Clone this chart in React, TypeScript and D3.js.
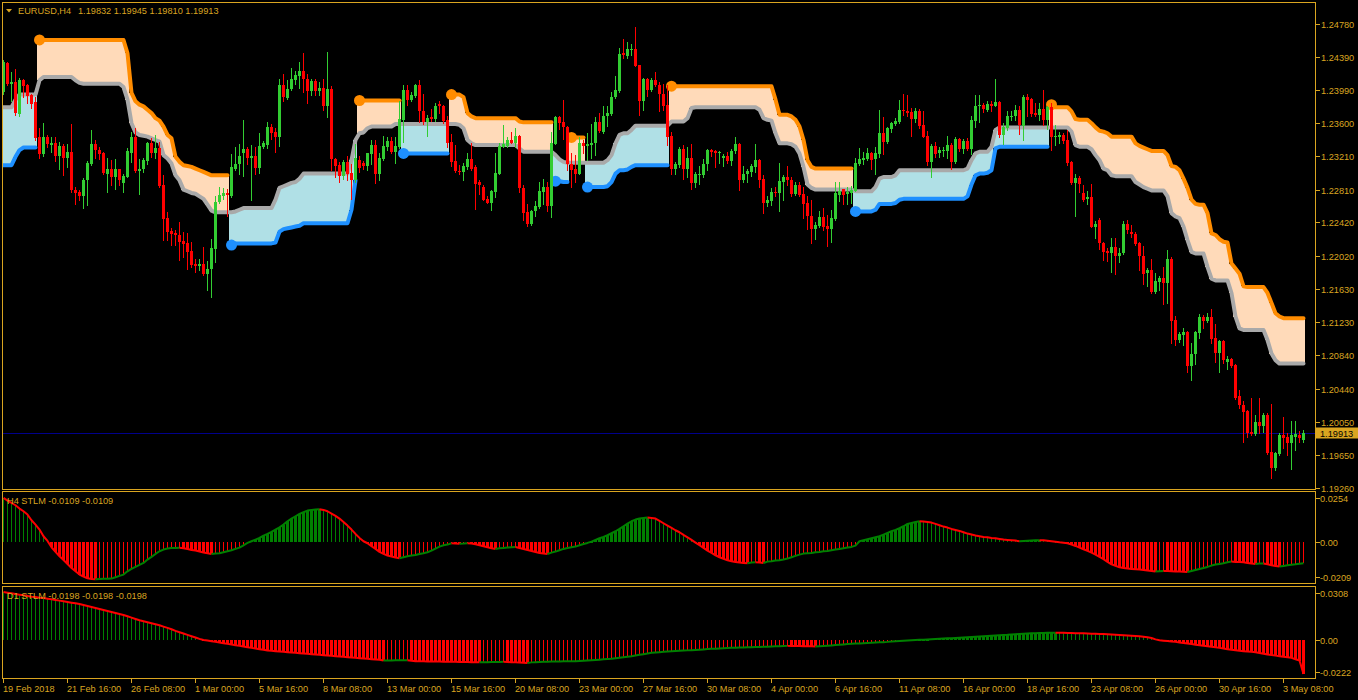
import React from "react";
import * as d3 from "d3";

// ---------------- DATA ----------------
const symbolTitle = "EURUSD,H4";
const lastQuote = "1.19832 1.19945 1.19810 1.19913";
const h4Title = "H4 STLM -0.0109 -0.0109";
const d1Title = "D1 STLM -0.0198 -0.0198 -0.0198";

const timeLabels = ["19 Feb 2018","21 Feb 16:00","26 Feb 08:00","1 Mar 00:00","5 Mar 16:00","8 Mar 08:00","13 Mar 00:00","15 Mar 16:00","20 Mar 08:00","23 Mar 00:00","27 Mar 16:00","30 Mar 08:00","4 Apr 00:00","6 Apr 16:00","11 Apr 08:00","16 Apr 00:00","18 Apr 16:00","23 Apr 08:00","26 Apr 00:00","30 Apr 16:00","3 May 08:00"];
const timeLabelBars = [0,16,32,48,64,80,96,112,128,144,160,176,192,208,224,240,256,272,288,304,320];

const priceTicks = [1.2478,1.2439,1.2399,1.236,1.2321,1.2281,1.2242,1.2202,1.2163,1.2123,1.2084,1.2044,1.2005,1.1965,1.1926];
const h4AxisValues = [0.0254, 0, -0.0209];
const h4AxisLabels = ["0.0254", "0.00", "-0.0209"];
const d1AxisValues = [0.0308, 0, -0.0222];
const d1AxisLabels = ["0.0308", "0.00", "-0.0222"];

const opens = [
1.2397,1.2432,1.2407,1.2409,1.2371,1.2411,1.2405,1.2393,1.2385,1.2343,
1.2323,1.2344,1.2334,1.2336,1.2321,1.2333,1.2319,1.2326,1.2281,1.2278,
1.2273,1.2292,1.2312,1.2335,1.2328,1.2324,1.2300,1.2306,1.2296,1.2305,
1.2289,1.2296,1.2325,1.2343,1.2303,1.2305,1.2315,1.2336,1.2324,1.2330,
1.2286,1.2247,1.2232,1.2229,1.2227,1.2220,1.2217,1.2208,1.2192,1.2190,
1.2192,1.2180,1.2187,1.2210,1.2266,1.2273,1.2277,1.2273,1.2306,1.2311,
1.2324,1.2329,1.2318,1.2321,1.2307,1.2332,1.2334,1.2356,1.2349,1.2343,
1.2406,1.2390,1.2401,1.2411,1.2416,1.2422,1.2413,1.2398,1.2410,1.2398,
1.2402,1.2381,1.2401,1.2317,1.2310,1.2297,1.2314,1.2301,1.2292,1.2316,
1.2313,1.2309,1.2323,1.2334,1.2300,1.2317,1.2332,1.2339,1.2326,1.2332,
1.2364,1.2400,1.2387,1.2392,1.2406,1.2375,1.2362,1.2367,1.2365,1.2383,
1.2381,1.2364,1.2338,1.2315,1.2303,1.2302,1.2308,1.2317,1.2308,1.2290,
1.2284,1.2270,1.2265,1.2278,1.2300,1.2332,1.2333,1.2340,1.2336,1.2345,
1.2283,1.2254,1.2240,1.2255,1.2260,1.2278,1.2284,1.2261,1.2335,1.2367,
1.2361,1.2355,1.2312,1.2305,1.2300,1.2337,1.2333,1.2334,1.2337,1.2361,
1.2349,1.2368,1.2371,1.2391,1.2398,1.2443,1.2440,1.2447,1.2448,1.2429,
1.2386,1.2412,1.2399,1.2411,1.2406,1.2395,1.2382,1.2345,1.2305,1.2310,
1.2329,1.2306,1.2319,1.2289,1.2298,1.2298,1.2311,1.2328,1.2327,1.2325,
1.2319,1.2321,1.2315,1.2327,1.2335,1.2292,1.2300,1.2302,1.2308,1.2316,
1.2294,1.2265,1.2268,1.2278,1.2277,1.2290,1.2296,1.2293,1.2276,1.2286,
1.2276,1.2265,1.2250,1.2234,1.2238,1.2248,1.2238,1.2234,1.2246,1.2274,
1.2282,1.2276,1.2277,1.2279,1.2312,1.2316,1.2317,1.2324,1.2317,1.2323,
1.2348,1.2338,1.2353,1.2359,1.2362,1.2376,1.2374,1.2373,1.2365,1.2375,
1.2358,1.2345,1.2314,1.2333,1.2324,1.2327,1.2327,1.2334,1.2314,1.2341,
1.2329,1.2339,1.2329,1.2363,1.2380,1.2382,1.2376,1.2383,1.2381,1.2385,
1.2346,1.2354,1.2367,1.2368,1.2376,1.2357,1.2391,1.2389,1.2372,1.2370,
1.2377,1.2364,1.2379,1.2343,1.2343,1.2346,1.2340,1.2314,1.2289,1.2295,
1.2277,1.2270,1.2272,1.2237,1.2245,1.2217,1.2208,1.2206,1.2213,1.2202,
1.2205,1.2240,1.2230,1.2228,1.2217,1.2202,1.2182,1.2185,1.2159,1.2171,
1.2176,1.2170,1.2199,1.2126,1.2102,1.2108,1.2112,1.2071,1.2085,1.2110,
1.2130,1.2125,1.2130,1.2104,1.2087,1.2101,1.2076,1.2079,1.2072,1.2035,
1.2025,1.2018,1.1993,1.1990,1.2005,1.2000,1.2013,1.1969,1.1950,1.1967,
1.1989,1.1987,1.1980,1.1987,1.1989,1.19832];

const highs = [
1.2435,1.2433,1.2421,1.2425,1.2414,1.2412,1.2407,1.2395,1.2391,1.2354,
1.2360,1.2346,1.2344,1.2343,1.2338,1.2335,1.2335,1.2359,1.2284,1.2281,
1.2295,1.2315,1.2352,1.2340,1.2332,1.2326,1.2319,1.2316,1.2317,1.2306,
1.2300,1.2330,1.2349,1.2354,1.2317,1.2318,1.2338,1.2342,1.2346,1.2338,
1.2298,1.2254,1.2235,1.2233,1.2242,1.2230,1.2229,1.2219,1.2199,1.2198,
1.2213,1.2196,1.2222,1.2273,1.2284,1.2283,1.2282,1.2323,1.2332,1.2335,
1.2364,1.2332,1.2334,1.2332,1.2348,1.2339,1.2362,1.2359,1.2354,1.2412,
1.2418,1.2411,1.2426,1.2422,1.2433,1.2443,1.2418,1.2413,1.2412,1.2409,
1.2413,1.2445,1.2404,1.2319,1.2314,1.2316,1.2321,1.2312,1.2335,1.2321,
1.2315,1.2325,1.2340,1.2340,1.2325,1.2345,1.2344,1.2344,1.2344,1.2386,
1.2406,1.2406,1.2397,1.2407,1.2411,1.2395,1.2370,1.2377,1.2384,1.2386,
1.2382,1.2368,1.2347,1.2334,1.2310,1.2313,1.2324,1.2336,1.2310,1.2292,
1.2286,1.2273,1.2281,1.2324,1.2336,1.2358,1.2343,1.2350,1.2354,1.2346,
1.2286,1.2264,1.2257,1.2267,1.2290,1.2294,1.2290,1.2349,1.2368,1.2369,
1.2388,1.2357,1.2325,1.2322,1.2344,1.2340,1.2348,1.2359,1.2367,1.2372,
1.2380,1.2380,1.2397,1.2416,1.2449,1.2460,1.2457,1.2454,1.2474,1.2429,
1.2414,1.2414,1.2414,1.2421,1.2409,1.2407,1.2406,1.2349,1.2314,1.2332,
1.2334,1.2332,1.2335,1.2302,1.2309,1.2317,1.2329,1.2329,1.2328,1.2327,
1.2323,1.2326,1.2329,1.2344,1.2337,1.2309,1.2306,1.2311,1.2335,1.2317,
1.2298,1.2273,1.2283,1.2284,1.2313,1.2298,1.2309,1.2296,1.2290,1.2290,
1.2284,1.2273,1.2269,1.2242,1.2255,1.2259,1.2251,1.2257,1.2290,1.2290,
1.2282,1.2284,1.2285,1.2319,1.2330,1.2326,1.2330,1.2326,1.2332,1.2376,
1.2367,1.2356,1.2362,1.2366,1.2387,1.2395,1.2393,1.2378,1.2378,1.2377,
1.2374,1.2351,1.2335,1.2338,1.2332,1.2332,1.2345,1.2337,1.2344,1.2342,
1.2341,1.2342,1.2368,1.2394,1.2394,1.2384,1.2386,1.2386,1.2413,1.2386,
1.2360,1.2375,1.2374,1.2382,1.2380,1.2394,1.2395,1.2390,1.2384,1.2384,
1.2400,1.2380,1.2384,1.2358,1.2349,1.2348,1.2352,1.2315,1.2299,1.2297,
1.2287,1.2279,1.2288,1.2244,1.2247,1.2219,1.2211,1.2223,1.2223,1.2212,
1.2244,1.2245,1.2239,1.2230,1.2219,1.2214,1.2188,1.2199,1.2182,1.2178,
1.2189,1.2209,1.2201,1.2131,1.2112,1.2116,1.2113,1.2098,1.2113,1.2133,
1.2132,1.2134,1.2139,1.2121,1.2102,1.2102,1.2083,1.2081,1.2073,1.2042,
1.2029,1.2019,1.2033,1.2013,1.2033,1.2015,1.2015,1.2026,1.1969,1.1991,
1.2011,1.1992,1.2006,1.2006,1.1994,1.19945];

const lows = [
1.2395,1.2405,1.2386,1.2370,1.2368,1.2391,1.2384,1.2378,1.2340,1.2319,
1.2321,1.2332,1.2326,1.2315,1.2306,1.2298,1.2308,1.2278,1.2264,1.2269,
1.2259,1.2263,1.2310,1.2318,1.2317,1.2300,1.2278,1.2286,1.2282,1.2286,
1.2278,1.2296,1.2314,1.2302,1.2276,1.2302,1.2312,1.2320,1.2318,1.2284,
1.2221,1.2221,1.2215,1.2215,1.2197,1.2201,1.2187,1.2189,1.2183,1.2185,
1.2179,1.2161,1.2153,1.2195,1.2265,1.2270,1.2249,1.2272,1.2304,1.2300,
1.2297,1.2312,1.2269,1.2300,1.2301,1.2330,1.2331,1.2341,1.2326,1.2333,
1.2386,1.2389,1.2399,1.2407,1.2402,1.2397,1.2384,1.2394,1.2393,1.2393,
1.2376,1.2367,1.2304,1.2296,1.2290,1.2294,1.2293,1.2270,1.2290,1.2302,
1.2305,1.2304,1.2312,1.2289,1.2292,1.2316,1.2328,1.2324,1.2313,1.2330,
1.2338,1.2382,1.2386,1.2391,1.2362,1.2359,1.2345,1.2363,1.2363,1.2372,
1.2360,1.2332,1.2309,1.2302,1.2300,1.2293,1.2306,1.2304,1.2258,1.2276,
1.2269,1.2265,1.2257,1.2272,1.2300,1.2332,1.2332,1.2336,1.2332,1.2278,
1.2245,1.2238,1.2239,1.2249,1.2259,1.2264,1.2256,1.2248,1.2335,1.2353,
1.2341,1.2304,1.2284,1.2290,1.2299,1.2324,1.2316,1.2318,1.2322,1.2349,
1.2348,1.2357,1.2370,1.2390,1.2397,1.2437,1.2438,1.2441,1.2428,1.2370,
1.2376,1.2392,1.2398,1.2404,1.2375,1.2376,1.2334,1.2299,1.2300,1.2308,
1.2294,1.2296,1.2282,1.2284,1.2288,1.2296,1.2304,1.2321,1.2308,1.2313,
1.2309,1.2313,1.2310,1.2325,1.2281,1.2290,1.2290,1.2297,1.2302,1.2284,
1.2253,1.2261,1.2263,1.2273,1.2256,1.2269,1.2286,1.2273,1.2275,1.2273,
1.2247,1.2234,1.2218,1.2222,1.2236,1.2233,1.2214,1.2219,1.2245,1.2267,
1.2264,1.2264,1.2265,1.2279,1.2310,1.2312,1.2316,1.2305,1.2300,1.2320,
1.2323,1.2337,1.2350,1.2358,1.2360,1.2370,1.2368,1.2345,1.2362,1.2354,
1.2343,1.2310,1.2296,1.2320,1.2320,1.2321,1.2318,1.2305,1.2313,1.2327,
1.2324,1.2328,1.2323,1.2356,1.2362,1.2373,1.2375,1.2374,1.2380,1.2344,
1.2335,1.2352,1.2364,1.2364,1.2347,1.2340,1.2369,1.2369,1.2369,1.2364,
1.2358,1.2353,1.2328,1.2334,1.2337,1.2336,1.2310,1.2288,1.2249,1.2278,
1.2267,1.2264,1.2236,1.2224,1.2210,1.2197,1.2196,1.2183,1.2181,1.2195,
1.2204,1.2229,1.2225,1.2215,1.2185,1.2169,1.2166,1.2158,1.2158,1.2161,
1.2145,1.2146,1.2098,1.2096,1.2100,1.2096,1.2064,1.2055,1.2073,1.2105,
1.2116,1.2123,1.2098,1.2076,1.2064,1.2075,1.2067,1.2070,1.2032,1.2021,
1.1981,1.1987,1.1989,1.1989,1.1992,1.1993,1.1967,1.1938,1.1947,1.1965,
1.1973,1.1965,1.1949,1.1971,1.1981,1.19810];

const closes = [
1.2433,1.2407,1.2409,1.2372,1.2411,1.2404,1.2392,1.2383,1.2342,1.2323,
1.2344,1.2335,1.2337,1.2321,1.2333,1.2319,1.2326,1.2280,1.2277,1.2273,
1.2293,1.2313,1.2335,1.2328,1.2323,1.2301,1.2306,1.2296,1.2305,1.2293,
1.2297,1.2327,1.2343,1.2303,1.2306,1.2316,1.2336,1.2324,1.2330,1.2285,
1.2246,1.2231,1.2228,1.2227,1.2219,1.2216,1.2207,1.2191,1.2190,1.2192,
1.2180,1.2187,1.2211,1.2266,1.2275,1.2277,1.2275,1.2308,1.2311,1.2321,
1.2329,1.2318,1.2321,1.2307,1.2333,1.2336,1.2355,1.2348,1.2343,1.2405,
1.2391,1.2401,1.2412,1.2417,1.2422,1.2412,1.2398,1.2410,1.2398,1.2402,
1.2381,1.2401,1.2317,1.2309,1.2297,1.2314,1.2300,1.2292,1.2318,1.2307,
1.2309,1.2324,1.2334,1.2300,1.2318,1.2333,1.2339,1.2326,1.2333,1.2365,
1.2399,1.2387,1.2393,1.2406,1.2374,1.2361,1.2366,1.2365,1.2381,1.2380,
1.2363,1.2336,1.2314,1.2303,1.2302,1.2309,1.2317,1.2306,1.2288,1.2286,
1.2269,1.2265,1.2279,1.2301,1.2333,1.2335,1.2340,1.2336,1.2345,1.2283,
1.2253,1.2240,1.2256,1.2261,1.2279,1.2284,1.2261,1.2336,1.2367,1.2360,
1.2355,1.2311,1.2304,1.2300,1.2336,1.2333,1.2335,1.2337,1.2361,1.2351,
1.2369,1.2372,1.2391,1.2399,1.2442,1.2441,1.2448,1.2448,1.2428,1.2386,
1.2412,1.2399,1.2411,1.2405,1.2395,1.2381,1.2344,1.2305,1.2311,1.2329,
1.2306,1.2319,1.2289,1.2299,1.2299,1.2311,1.2328,1.2326,1.2325,1.2326,
1.2321,1.2315,1.2327,1.2335,1.2292,1.2300,1.2303,1.2309,1.2316,1.2293,
1.2265,1.2269,1.2278,1.2277,1.2291,1.2296,1.2292,1.2276,1.2286,1.2275,
1.2264,1.2249,1.2234,1.2239,1.2248,1.2237,1.2234,1.2247,1.2277,1.2279,
1.2275,1.2278,1.2281,1.2313,1.2317,1.2319,1.2324,1.2316,1.2324,1.2348,
1.2338,1.2354,1.2360,1.2363,1.2376,1.2374,1.2372,1.2365,1.2375,1.2357,
1.2344,1.2314,1.2333,1.2323,1.2328,1.2328,1.2334,1.2314,1.2341,1.2329,
1.2339,1.2329,1.2364,1.2381,1.2382,1.2377,1.2383,1.2381,1.2385,1.2346,
1.2355,1.2368,1.2369,1.2376,1.2358,1.2391,1.2388,1.2371,1.2370,1.2377,
1.2364,1.2379,1.2343,1.2345,1.2346,1.2339,1.2313,1.2289,1.2295,1.2288,
1.2269,1.2272,1.2237,1.2240,1.2217,1.2207,1.2206,1.2213,1.2202,1.2206,
1.2240,1.2233,1.2228,1.2216,1.2202,1.2181,1.2185,1.2159,1.2172,1.2176,
1.2170,1.2199,1.2125,1.2102,1.2109,1.2112,1.2071,1.2086,1.2111,1.2130,
1.2125,1.2130,1.2103,1.2087,1.2101,1.2078,1.2079,1.2071,1.2033,1.2025,
1.2017,1.1992,1.1990,1.2005,1.2000,1.2013,1.1968,1.1950,1.1968,1.1989,
1.1986,1.1980,1.1989,1.1990,1.1985,1.19913];

// gray middle line of the channel
const stlMid = [
1.2379,1.2379,1.2379,1.2388,1.2394,1.2394,1.2394,1.2394,1.2394,1.2411,
1.2415,1.2415,1.2415,1.2415,1.2415,1.2415,1.2415,1.2415,1.2411,1.2408,
1.2407,1.2407,1.2407,1.2407,1.2407,1.2407,1.2407,1.2407,1.2407,1.2407,
1.2403,1.2388,1.2360,1.2349,1.2346,1.2345,1.2344,1.2342,1.2340,1.2338,
1.2322,1.2318,1.2312,1.2298,1.2292,1.2281,1.2279,1.2277,1.2276,1.2273,
1.2270,1.2263,1.2256,1.2254,1.2254,1.2254,1.2254,1.2254,1.2255,1.2257,
1.2259,1.2259,1.2259,1.2259,1.2259,1.2259,1.2259,1.2259,1.2269,1.2283,
1.2285,1.2287,1.2289,1.2290,1.2294,1.2300,1.2300,1.2300,1.2300,1.2300,
1.2300,1.2300,1.2300,1.2300,1.2300,1.2300,1.2300,1.2316,1.2340,1.2348,
1.2349,1.2354,1.2356,1.2356,1.2356,1.2356,1.2356,1.2356,1.2359,1.2359,
1.2359,1.2359,1.2359,1.2359,1.2359,1.2359,1.2359,1.2359,1.2359,1.2359,
1.2359,1.2359,1.2359,1.2359,1.2358,1.2354,1.2340,1.2336,1.2334,1.2334,
1.2334,1.2334,1.2334,1.2334,1.2334,1.2334,1.2334,1.2334,1.2334,1.2330,
1.2326,1.2326,1.2326,1.2326,1.2326,1.2326,1.2326,1.2326,1.2322,1.2317,
1.2314,1.2313,1.2313,1.2313,1.2313,1.2313,1.2313,1.2313,1.2313,1.2313,
1.2313,1.2316,1.2322,1.2336,1.2346,1.2348,1.2348,1.2352,1.2357,1.2357,
1.2357,1.2357,1.2357,1.2357,1.2357,1.2357,1.2357,1.2362,1.2362,1.2362,
1.2362,1.2366,1.2378,1.2379,1.2379,1.2379,1.2379,1.2379,1.2379,1.2379,
1.2379,1.2379,1.2379,1.2379,1.2379,1.2379,1.2379,1.2379,1.2379,1.2376,
1.2366,1.2364,1.2363,1.2348,1.2336,1.2336,1.2336,1.2335,1.2332,1.2324,
1.2308,1.2287,1.2283,1.2281,1.2281,1.2281,1.2281,1.2281,1.2281,1.2281,
1.2281,1.2281,1.2281,1.2279,1.2279,1.2279,1.2279,1.2279,1.2284,1.2294,
1.2296,1.2296,1.2296,1.2298,1.2304,1.2304,1.2304,1.2304,1.2304,1.2304,
1.2304,1.2304,1.2304,1.2304,1.2304,1.2304,1.2304,1.2304,1.2304,1.2304,
1.2304,1.2306,1.2316,1.2324,1.2326,1.2326,1.2326,1.2332,1.2352,1.2355,
1.2355,1.2355,1.2355,1.2355,1.2355,1.2355,1.2355,1.2355,1.2355,1.2355,
1.2355,1.2355,1.2355,1.2355,1.2355,1.2355,1.2355,1.2350,1.2334,1.2332,
1.2332,1.2332,1.2329,1.2322,1.2316,1.2306,1.2304,1.2298,1.2297,1.2297,
1.2297,1.2297,1.2297,1.2290,1.2287,1.2284,1.2282,1.2280,1.2280,1.2280,
1.2280,1.2273,1.2253,1.2249,1.2247,1.2237,1.2221,1.2207,1.2205,1.2205,
1.2205,1.2189,1.2175,1.2173,1.2173,1.2173,1.2173,1.2158,1.2130,1.2116,
1.2114,1.2114,1.2114,1.2114,1.2114,1.2114,1.2102,1.2086,1.2078,1.2074,
1.2074,1.2074,1.2074,1.2074,1.2074,1.2074];

// outer channel line: above the middle line = orange (down), below = blue (up)
const stlBand = [
1.2310,1.2310,1.2310,1.2320,1.2328,1.2331,1.2331,1.2331,1.2331,1.2459,
1.2459,1.2459,1.2459,1.2459,1.2459,1.2459,1.2459,1.2459,1.2459,1.2459,
1.2459,1.2459,1.2459,1.2459,1.2459,1.2459,1.2459,1.2459,1.2459,1.2459,
1.2459,1.2443,1.2396,1.2386,1.2382,1.2380,1.2376,1.2372,1.2366,1.2363,
1.2356,1.2346,1.2342,1.2320,1.2314,1.2310,1.2309,1.2308,1.2306,1.2304,
1.2302,1.2300,1.2298,1.2298,1.2298,1.2298,1.2298,1.2215,1.2217,1.2217,
1.2217,1.2217,1.2217,1.2217,1.2217,1.2217,1.2217,1.2217,1.2218,1.2231,
1.2234,1.2235,1.2236,1.2237,1.2238,1.2241,1.2241,1.2241,1.2241,1.2241,
1.2241,1.2241,1.2241,1.2241,1.2241,1.2241,1.2241,1.2257,1.2292,1.2387,
1.2387,1.2387,1.2387,1.2387,1.2387,1.2387,1.2387,1.2387,1.2387,1.2387,
1.2324,1.2324,1.2324,1.2324,1.2324,1.2324,1.2324,1.2324,1.2324,1.2324,
1.2324,1.2324,1.2394,1.2394,1.2394,1.2391,1.2372,1.2368,1.2366,1.2366,
1.2366,1.2366,1.2366,1.2366,1.2366,1.2366,1.2366,1.2366,1.2366,1.2362,
1.2361,1.2361,1.2361,1.2361,1.2361,1.2361,1.2361,1.2361,1.2291,1.2291,
1.2290,1.2290,1.2343,1.2343,1.2343,1.2343,1.2284,1.2284,1.2284,1.2284,
1.2284,1.2285,1.2290,1.2300,1.2304,1.2304,1.2305,1.2308,1.2310,1.2310,
1.2310,1.2310,1.2310,1.2310,1.2310,1.2310,1.2310,1.2404,1.2404,1.2404,
1.2404,1.2404,1.2404,1.2404,1.2404,1.2404,1.2404,1.2404,1.2404,1.2404,
1.2404,1.2404,1.2404,1.2404,1.2404,1.2404,1.2404,1.2404,1.2404,1.2404,
1.2404,1.2404,1.2404,1.2388,1.2370,1.2370,1.2370,1.2368,1.2364,1.2356,
1.2340,1.2316,1.2308,1.2306,1.2306,1.2306,1.2306,1.2306,1.2306,1.2306,
1.2306,1.2306,1.2306,1.2255,1.2255,1.2255,1.2255,1.2255,1.2257,1.2264,
1.2264,1.2264,1.2264,1.2265,1.2269,1.2270,1.2270,1.2270,1.2270,1.2270,
1.2270,1.2270,1.2270,1.2270,1.2270,1.2270,1.2270,1.2270,1.2270,1.2270,
1.2270,1.2273,1.2287,1.2298,1.2300,1.2300,1.2301,1.2304,1.2330,1.2332,
1.2332,1.2332,1.2332,1.2332,1.2332,1.2332,1.2332,1.2332,1.2332,1.2332,
1.2332,1.2332,1.2382,1.2379,1.2379,1.2379,1.2379,1.2374,1.2365,1.2364,
1.2364,1.2364,1.2360,1.2355,1.2351,1.2350,1.2348,1.2344,1.2344,1.2344,
1.2344,1.2344,1.2344,1.2336,1.2333,1.2331,1.2329,1.2327,1.2327,1.2327,
1.2327,1.2322,1.2309,1.2308,1.2304,1.2294,1.2283,1.2269,1.2264,1.2263,
1.2263,1.2253,1.2229,1.2227,1.2222,1.2219,1.2218,1.2193,1.2187,1.2181,
1.2166,1.2165,1.2165,1.2165,1.2165,1.2165,1.2158,1.2146,1.2134,1.2130,
1.2128,1.2128,1.2128,1.2128,1.2128,1.2128];

const h4Stlm = [
0.02239,0.02103,0.01985,0.01866,0.01696,0.01561,0.01391,0.01103,0.00882,0.00628,
0.00288,0.00051,-0.00271,-0.00509,-0.00729,-0.00916,-0.01120,-0.01323,-0.01493,-0.01662,
-0.01764,-0.01849,-0.01883,-0.01900,-0.01890,-0.01880,-0.01874,-0.01866,-0.01798,-0.01730,
-0.01662,-0.01493,-0.01374,-0.01272,-0.01170,-0.01069,-0.00899,-0.00763,-0.00611,-0.00475,
-0.00390,-0.00339,-0.00314,-0.00305,-0.00302,-0.00322,-0.00356,-0.00407,-0.00441,-0.00492,
-0.00543,-0.00577,-0.00611,-0.00594,-0.00577,-0.00526,-0.00475,-0.00424,-0.00356,-0.00288,
-0.00170,-0.00051,0.00034,0.00119,0.00204,0.00322,0.00407,0.00509,0.00628,0.00746,
0.00882,0.01052,0.01187,0.01306,0.01425,0.01510,0.01595,0.01628,0.01645,0.01662,
0.01628,0.01561,0.01442,0.01323,0.01187,0.01018,0.00831,0.00628,0.00407,0.00204,
0.00034,-0.00068,-0.00221,-0.00356,-0.00509,-0.00611,-0.00696,-0.00746,-0.00797,-0.00831,
-0.00780,-0.00729,-0.00696,-0.00662,-0.00611,-0.00577,-0.00526,-0.00441,-0.00339,-0.00237,
-0.00170,-0.00136,-0.00068,-0.00085,-0.00093,-0.00085,-0.00068,-0.00076,-0.00119,-0.00170,
-0.00221,-0.00271,-0.00322,-0.00356,-0.00322,-0.00305,-0.00288,-0.00271,-0.00254,-0.00305,
-0.00356,-0.00407,-0.00458,-0.00509,-0.00560,-0.00594,-0.00611,-0.00543,-0.00492,-0.00424,
-0.00356,-0.00305,-0.00271,-0.00237,-0.00170,-0.00102,-0.00051,0.00017,0.00102,0.00187,
0.00254,0.00339,0.00441,0.00543,0.00662,0.00797,0.00933,0.01052,0.01137,0.01187,
0.01221,0.01238,0.01221,0.01187,0.01069,0.00950,0.00831,0.00712,0.00594,0.00492,
0.00356,0.00237,0.00102,-0.00034,-0.00170,-0.00305,-0.00441,-0.00560,-0.00679,-0.00780,
-0.00865,-0.00933,-0.00984,-0.01018,-0.01052,-0.01069,-0.01086,-0.01052,-0.01035,-0.01052,
-0.01069,-0.01001,-0.00984,-0.00950,-0.00933,-0.00899,-0.00848,-0.00780,-0.00712,-0.00645,
-0.00594,-0.00577,-0.00560,-0.00526,-0.00509,-0.00475,-0.00458,-0.00424,-0.00390,-0.00356,
-0.00322,-0.00288,-0.00254,-0.00187,0.00034,0.00085,0.00136,0.00187,0.00237,0.00288,
0.00373,0.00458,0.00543,0.00611,0.00696,0.00797,0.00916,0.00967,0.01018,0.01052,
0.01035,0.01018,0.00984,0.00916,0.00848,0.00780,0.00729,0.00662,0.00611,0.00560,
0.00492,0.00424,0.00373,0.00322,0.00288,0.00254,0.00237,0.00204,0.00187,0.00153,
0.00119,0.00102,0.00085,0.00068,0.00034,0.00045,0.00060,0.00075,0.00085,0.00090,
0.00080,0.00060,0.00040,0.00010,-0.00020,-0.00045,-0.00070,-0.00136,-0.00204,-0.00288,
-0.00373,-0.00458,-0.00543,-0.00645,-0.00763,-0.00882,-0.01018,-0.01137,-0.01221,-0.01289,
-0.01323,-0.01357,-0.01374,-0.01391,-0.01408,-0.01425,-0.01459,-0.01476,-0.01510,-0.01493,
-0.01476,-0.01484,-0.01493,-0.01501,-0.01510,-0.01518,-0.01527,-0.01476,-0.01425,-0.01374,
-0.01323,-0.01272,-0.01204,-0.01153,-0.01120,-0.01086,-0.01035,-0.01001,-0.01018,-0.01026,
-0.01035,-0.01069,-0.01103,-0.01120,-0.01103,-0.01094,-0.01137,-0.01187,-0.01221,-0.01255,
-0.01220,-0.01190,-0.01160,-0.01140,-0.01110,-0.01090];

const d1Stlm = [
0.02789,0.02751,0.02712,0.02673,0.02634,0.02596,0.02557,0.02518,0.02499,0.02460,
0.02441,0.02402,0.02363,0.02324,0.02286,0.02247,0.02208,0.02169,0.02131,0.02092,
0.02034,0.01976,0.01918,0.01860,0.01801,0.01743,0.01685,0.01627,0.01569,0.01511,
0.01453,0.01375,0.01298,0.01220,0.01143,0.01085,0.01027,0.00969,0.00910,0.00852,
0.00775,0.00697,0.00620,0.00523,0.00446,0.00368,0.00291,0.00213,0.00136,0.00058,
-0.00010,-0.00039,-0.00077,-0.00116,-0.00155,-0.00194,-0.00232,-0.00271,-0.00310,-0.00349,
-0.00387,-0.00426,-0.00465,-0.00504,-0.00542,-0.00581,-0.00620,-0.00639,-0.00659,-0.00678,
-0.00697,-0.00717,-0.00736,-0.00755,-0.00775,-0.00794,-0.00813,-0.00833,-0.00852,-0.00872,
-0.00891,-0.00910,-0.00930,-0.00949,-0.00968,-0.00988,-0.01007,-0.01027,-0.01046,-0.01065,
-0.01085,-0.01104,-0.01123,-0.01143,-0.01162,-0.01201,-0.01198,-0.01195,-0.01192,-0.01189,
-0.01186,-0.01183,-0.01220,-0.01240,-0.01244,-0.01248,-0.01252,-0.01256,-0.01260,-0.01264,
-0.01268,-0.01272,-0.01276,-0.01280,-0.01284,-0.01288,-0.01292,-0.01296,-0.01300,-0.01304,
-0.01300,-0.01296,-0.01292,-0.01288,-0.01284,-0.01280,-0.01290,-0.01300,-0.01310,-0.01320,
-0.01330,-0.01340,-0.01310,-0.01300,-0.01290,-0.01280,-0.01270,-0.01262,-0.01256,-0.01252,
-0.01249,-0.01246,-0.01243,-0.01240,-0.01230,-0.01215,-0.01200,-0.01182,-0.01166,-0.01150,
-0.01134,-0.01118,-0.01104,-0.01073,-0.01042,-0.01011,-0.00980,-0.00949,-0.00910,-0.00871,
-0.00833,-0.00794,-0.00755,-0.00736,-0.00717,-0.00698,-0.00679,-0.00659,-0.00647,-0.00635,
-0.00623,-0.00611,-0.00600,-0.00585,-0.00570,-0.00554,-0.00538,-0.00523,-0.00511,-0.00500,
-0.00488,-0.00476,-0.00465,-0.00457,-0.00449,-0.00441,-0.00434,-0.00426,-0.00418,-0.00410,
-0.00403,-0.00395,-0.00387,-0.00378,-0.00368,-0.00358,-0.00349,-0.00353,-0.00358,-0.00362,
-0.00367,-0.00371,-0.00376,-0.00380,-0.00372,-0.00360,-0.00345,-0.00325,-0.00305,-0.00285,
-0.00265,-0.00245,-0.00228,-0.00216,-0.00204,-0.00192,-0.00180,-0.00168,-0.00156,-0.00144,
-0.00132,-0.00116,-0.00090,-0.00075,-0.00060,-0.00045,-0.00030,-0.00015,-0.00005,0.00005,
0.00012,0.00019,0.00030,0.00045,0.00060,0.00078,0.00090,0.00102,0.00114,0.00126,
0.00136,0.00150,0.00164,0.00180,0.00194,0.00209,0.00224,0.00240,0.00256,0.00271,
0.00283,0.00294,0.00316,0.00329,0.00343,0.00357,0.00372,0.00387,0.00393,0.00399,
0.00405,0.00411,0.00417,0.00422,0.00418,0.00412,0.00405,0.00399,0.00392,0.00387,
0.00380,0.00372,0.00364,0.00356,0.00349,0.00337,0.00325,0.00314,0.00302,0.00291,
0.00276,0.00262,0.00247,0.00232,0.00206,0.00181,0.00155,0.00110,0.00030,-0.00020,
-0.00045,-0.00070,-0.00095,-0.00116,-0.00148,-0.00180,-0.00213,-0.00245,-0.00277,-0.00310,
-0.00339,-0.00368,-0.00397,-0.00426,-0.00465,-0.00504,-0.00542,-0.00575,-0.00607,-0.00639,
-0.00659,-0.00678,-0.00697,-0.00717,-0.00762,-0.00807,-0.00852,-0.00884,-0.00917,-0.00949,
-0.00981,-0.01014,-0.01046,-0.01124,-0.01201,-0.01980];

// ---------------- STYLE ----------------
const FONT = "'Liberation Sans', Arial, Helvetica, sans-serif";
const FS = 9.2;
const GOLD = "#DAA520";
const BULL = "#32CD32";
const BEAR = "#FF0000";
const ORANGE = "#FF8C00";
const PEACH = "#FFDAB9";
const GRAY = "#A9A9A9";
const BLUE = "#1E90FF";
const LIGHTBLUE = "#B0E0E6";
const OSC_UP = "#008000";
const OSC_DN = "#FF0000";

const W = 1358, H = 700;
const LEFT = 2.5, RIGHT = 1315.5;
const MAIN = { top: 2.5, bottom: 489.5 };
const P1 = { top: 491.5, bottom: 583.5 };
const P2 = { top: 586.5, bottom: 678.5 };

function directions(v: number[]): boolean[] {
  const up: boolean[] = [];
  for (let i = 0; i < v.length; i++) {
    if (i === 0) up.push(v[1] > v[0]);
    else if (v[i] > v[i - 1]) up.push(true);
    else if (v[i] < v[i - 1]) up.push(false);
    else up.push(up[i - 1]);
  }
  return up;
}

function runsOf<T>(arr: T[]): { start: number; end: number; key: T }[] {
  const out: { start: number; end: number; key: T }[] = [];
  arr.forEach((k, i) => {
    if (i === 0 || k !== arr[i - 1]) out.push({ start: i, end: i, key: k });
    else out[out.length - 1].end = i;
  });
  return out;
}

function Oscillator({ values, yScale, clipId }: { values: number[]; yScale: d3.ScaleLinear<number, number>; clipId: string }) {
  const n = values.length;
  const x = d3.scaleLinear().domain([0, n - 1]).range([3, 3 + 4 * (n - 1)]);
  const up = directions(values);
  const y0 = Math.round(yScale(0));
  const line = d3.line<number>().x((i) => x(i) + 0.5).y((i) => yScale(values[i]));
  const segs = runsOf(up.map((u, i) => (i === 0 ? up[1] : u)));
  return (
    <g clipPath={`url(#${clipId})`}>
      {values.map((v, i) => {
        const pos = v >= 0;
        const thick = (pos && up[i]) || (!pos && !up[i]);
        const yv = Math.round(yScale(v));
        const top = Math.min(y0, yv);
        const h = Math.max(1, Math.abs(yv - y0));
        return (
          <rect key={i} x={thick ? x(i) - 1 : x(i)} y={top} width={thick ? 3 : 1} height={h}
            fill={pos ? OSC_UP : OSC_DN} shapeRendering="crispEdges" />
        );
      })}
      {segs.map((s, k) => {
        const idx = d3.range(Math.max(0, s.start - 1), s.end + 1);
        return <path key={k} d={line(idx) || ""} fill="none" stroke={s.key ? OSC_UP : OSC_DN} strokeWidth={2} strokeLinejoin="round" />;
      })}
    </g>
  );
}

export default function App() {
  const n = closes.length;
  const x = d3.scaleLinear().domain([0, n - 1]).range([3, 3 + 4 * (n - 1)]);
  const cx = (i: number) => x(i) + 0.5;
  const yP = d3.scaleLinear().domain([1.1926, 1.2478]).range([488, 24]);
  const yH4 = d3.scaleLinear().domain([-0.0209, 0.0254]).range([583, 492]);
  const yD1 = d3.scaleLinear().domain([-0.0222, 0.0308]).range([678, 587]);

  const down = stlBand.map((b, i) => b > stlMid[i]);
  const trendRuns = runsOf(down);
  const midLine = d3.line<number>().x(cx).y((i) => yP(stlMid[i]));
  const bandLine = d3.line<number>().x(cx).y((i) => yP(stlBand[i]));

  const lastClose = closes[n - 1];
  const bidY = Math.round(yP(lastClose)) + 0.5;

  const textProps = { fontFamily: FONT, fontSize: FS, fill: GOLD };

  const subLabelY = (panel: { top: number; bottom: number }, yS: d3.ScaleLinear<number, number>, k: number) =>
    k === 0 ? panel.top + 6.5 : k === 2 ? panel.bottom - 6.5 : yS(0);

  return (
    <div style={{ position: "absolute", left: 0, top: 0, width: W, height: H, background: "#000" }}>
      <svg width={W} height={H} style={{ display: "block" }}>
        <defs>
          <clipPath id="clipMain"><rect x={3} y={3} width={RIGHT - 3.5} height={MAIN.bottom - 3.5} /></clipPath>
          <clipPath id="clipH4"><rect x={3} y={P1.top + 0.5} width={RIGHT - 3.5} height={P1.bottom - P1.top - 1} /></clipPath>
          <clipPath id="clipD1"><rect x={3} y={P2.top + 0.5} width={RIGHT - 3.5} height={P2.bottom - P2.top - 1} /></clipPath>
        </defs>
        <rect x={0} y={0} width={W} height={H} fill="#000" />

        {/* ---- main panel ---- */}
        <g clipPath="url(#clipMain)">
          {stlMid.map((m, i) => {
            const a = Math.round(yP(m)), b = Math.round(yP(stlBand[i]));
            return <rect key={i} x={x(i) - 2} y={Math.min(a, b)} width={4} height={Math.abs(a - b)}
              fill={down[i] ? PEACH : LIGHTBLUE} shapeRendering="crispEdges" />;
          })}
          <path d={midLine(d3.range(n)) || ""} fill="none" stroke={GRAY} strokeWidth={4} strokeLinejoin="round" strokeLinecap="round" />
          {trendRuns.map((r, k) => (
            <path key={k} d={bandLine(d3.range(r.start, r.end + 1)) || ""} fill="none"
              stroke={r.key ? ORANGE : BLUE} strokeWidth={4} strokeLinejoin="round" strokeLinecap="round" />
          ))}
          {trendRuns.filter((r) => r.start > 0).map((r, k) => (
            <circle key={k} cx={cx(r.start)} cy={yP(stlBand[r.start])} r={5.5} fill={r.key ? ORANGE : BLUE} />
          ))}
          <line x1={LEFT} x2={RIGHT} y1={bidY} y2={bidY} stroke="#00008B" strokeWidth={1} />
          {closes.map((c, i) => {
            const o = opens[i];
            const col = c >= o ? BULL : BEAR;
            const hi = Math.round(yP(highs[i])), lo = Math.round(yP(lows[i]));
            const bt = Math.round(yP(Math.max(o, c))), bb = Math.round(yP(Math.min(o, c)));
            return (
              <g key={i} fill={col} shapeRendering="crispEdges">
                <rect x={x(i)} y={hi} width={1} height={Math.max(1, lo - hi + 1)} />
                <rect x={x(i) - 1} y={bt} width={3} height={Math.max(1, bb - bt)} />
              </g>
            );
          })}
        </g>

        {/* ---- oscillators ---- */}
        <Oscillator values={h4Stlm} yScale={yH4} clipId="clipH4" />
        <Oscillator values={d1Stlm} yScale={yD1} clipId="clipD1" />

        {/* ---- frames ---- */}
        <g fill="none" stroke={GOLD} strokeWidth={1} shapeRendering="crispEdges">
          <rect x={LEFT} y={MAIN.top} width={RIGHT - LEFT} height={MAIN.bottom - MAIN.top} />
          <rect x={LEFT} y={P1.top} width={RIGHT - LEFT} height={P1.bottom - P1.top} />
          <rect x={LEFT} y={P2.top} width={RIGHT - LEFT} height={P2.bottom - P2.top} />
        </g>

        {/* ---- price axis ---- */}
        {priceTicks.map((p, k) => {
          const y = Math.round(yP(p)) + 0.5;
          return (
            <g key={k}>
              <line x1={RIGHT} x2={RIGHT + 4} y1={y} y2={y} stroke={GOLD} shapeRendering="crispEdges" />
              <text x={1321} y={y + 3.3} {...textProps}>{p.toFixed(5)}</text>
            </g>
          );
        })}
        <rect x={1316} y={bidY - 6} width={42} height={11} fill={GOLD} />
        <text x={1320} y={bidY + 3.3} fontFamily={FONT} fontSize={FS} fill="#000">{lastClose.toFixed(5)}</text>

        {/* ---- oscillator axes ---- */}
        {h4AxisValues.map((v, k) => {
          const y = Math.round(subLabelY(P1, yH4, k)) + 0.5;
          return (
            <g key={"h" + k}>
              <line x1={RIGHT} x2={RIGHT + 4} y1={y} y2={y} stroke={GOLD} shapeRendering="crispEdges" />
              <text x={1320} y={y + 3.3} {...textProps}>{h4AxisLabels[k]}</text>
            </g>
          );
        })}
        {d1AxisValues.map((v, k) => {
          const y = Math.round(subLabelY(P2, yD1, k)) + 0.5;
          return (
            <g key={"d" + k}>
              <line x1={RIGHT} x2={RIGHT + 4} y1={y} y2={y} stroke={GOLD} shapeRendering="crispEdges" />
              <text x={1320} y={y + 3.3} {...textProps}>{d1AxisLabels[k]}</text>
            </g>
          );
        })}

        {/* ---- time axis ---- */}
        {timeLabels.map((t, k) => {
          const xx = x(timeLabelBars[k]);
          return (
            <g key={k}>
              <rect x={xx} y={679} width={1} height={4} fill={GOLD} shapeRendering="crispEdges" />
              <text x={xx} y={691.8} {...textProps}>{t}</text>
            </g>
          );
        })}

        {/* ---- titles ---- */}
        <path d="M6,9 L12,9 L9,12.5 Z" fill={GOLD} />
        <text x={18} y={14} {...textProps}>{symbolTitle}</text>
        <text x={78} y={14} {...textProps}>{lastQuote}</text>
        <text x={7} y={504} {...textProps}>{h4Title}</text>
        <text x={7} y={598.6} {...textProps}>{d1Title}</text>
      </svg>
    </div>
  );
}
